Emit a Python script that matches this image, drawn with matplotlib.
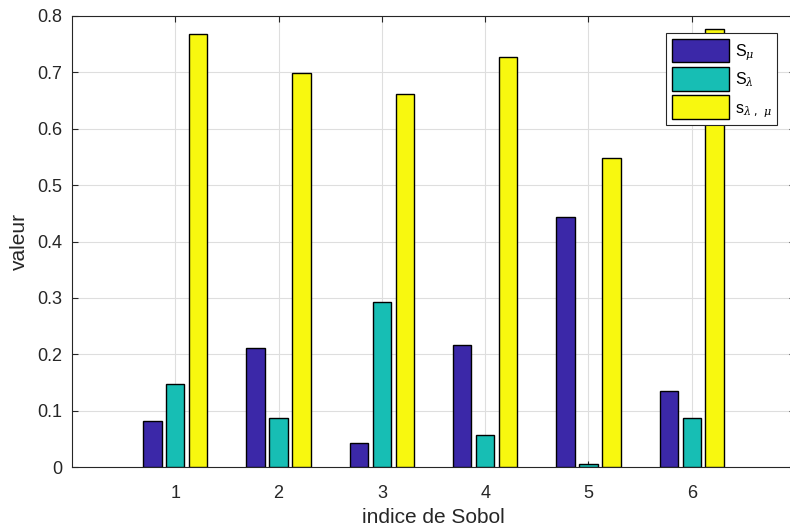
import numpy as np
import matplotlib.pyplot as plt

# indices de Sobol
groupes = [1, 2, 3, 4, 5, 6]
s_mu = [0.082, 0.211, 0.042, 0.216, 0.444, 0.135]
s_lambda = [0.147, 0.087, 0.292, 0.057, 0.005, 0.087]
s_lambda_mu = [0.768, 0.699, 0.662, 0.727, 0.549, 0.777]

noms = ['S$_{\\mu}$', 'S$_{\\lambda}$', 's$_{\\lambda\\ ,\\ \\mu}$']
couleurs = ['#3B28A8', '#17BEB4', '#F8F80F']

plt.rcParams['font.family'] = ['Liberation Sans', 'DejaVu Sans']
plt.rcParams['mathtext.fontset'] = 'custom'
plt.rcParams['mathtext.it'] = 'DejaVu Serif:italic'

fig = plt.figure(figsize=(7.9, 5.32), dpi=100)
ax = fig.add_axes([72 / 790, 65 / 532, 723 / 790, 451 / 532])

x = np.array(groupes)
pas = 0.222
larg = pas * 0.8
for i, serie in enumerate([s_mu, s_lambda, s_lambda_mu]):
    ax.bar(x + (i - 1) * pas, serie, width=larg, color=couleurs[i],
           edgecolor='black', linewidth=1.0, label=noms[i], zorder=3)

ax.set_xlim(0, 7)
ax.set_ylim(0, 0.8)
ax.set_xticks(groupes)
ax.set_yticks(np.arange(0, 0.81, 0.1))
ax.set_yticklabels(['0'] + ['%.1f' % v for v in np.arange(0.1, 0.81, 0.1)])
ax.grid(True, color='#dedede', linewidth=0.8, zorder=0)
ax.tick_params(direction='in', top=True, right=True, labelsize=13,
               colors='#262626', length=4)
ax.tick_params(axis='x', pad=13)
ax.tick_params(axis='y', pad=7)
for s in ax.spines.values():
    s.set_color('#262626')
    s.set_linewidth(0.8)

ax.set_xlabel('indice de Sobol', fontsize=15, color='#262626', labelpad=4)
ax.set_ylabel('valeur', fontsize=15, color='#262626', labelpad=6)

leg = ax.legend(loc='upper right', bbox_to_anchor=(705 / 723, 1 - 17 / 451),
                fancybox=False, edgecolor='#262626', framealpha=1,
                fontsize=11.5, handlelength=3.6, handleheight=1.9,
                labelspacing=0.3, handletextpad=0.35, borderpad=0.35,
                borderaxespad=0)
leg.get_frame().set_linewidth(0.8)

fig.savefig('out.png', dpi=100)
